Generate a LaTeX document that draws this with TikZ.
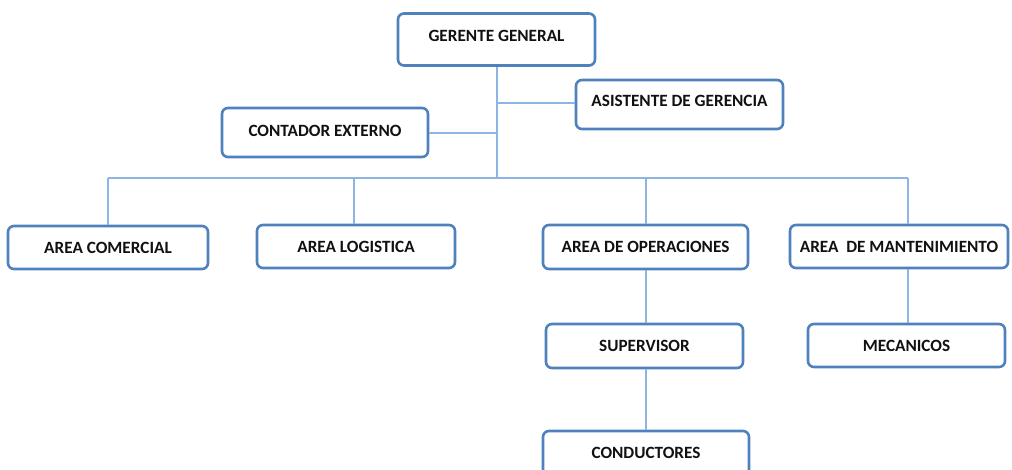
\documentclass[tikz,border=0pt]{standalone}
\usepackage{fontspec}
\setmainfont{Carlito}
\definecolor{boxblue}{HTML}{4F81BD}
\definecolor{linkblue}{HTML}{8EB4E3}
\definecolor{txt}{HTML}{111111}
\begin{document}
\begin{tikzpicture}[x=1pt,y=-1pt,
  orgbox/.style={draw=boxblue,line width=2.6pt,rounded corners=6pt,fill=white,
    inner sep=0pt,font=\fontsize{17.2}{19}\selectfont\bfseries,text=txt},
  link/.style={draw=linkblue,line width=1.4pt}]
\clip (0,0) rectangle (1012,470);
\fill[white] (0,0) rectangle (1012,470);
\coordinate (hub) at (497,178);
\coordinate (jA) at (497,103);
\coordinate (jC) at (497,133);
\coordinate (hL) at (108,178);
\coordinate (hR) at (908,178);
\coordinate (h2) at (354,178);
\coordinate (h3) at (646,178);
\node[orgbox,minimum width=197pt,minimum height=52pt,text depth=7pt] (gg) at (496.5,39.5) {GERENTE GENERAL};
\node[orgbox,minimum width=207pt,minimum height=49pt,text depth=7pt] (as) at (679.5,104.5) {ASISTENTE DE GERENCIA};
\node[orgbox,minimum width=206pt,minimum height=49pt,text depth=4pt] (ce) at (325,132.5) {CONTADOR EXTERNO};
\node[orgbox,minimum width=200pt,minimum height=43pt] (ac) at (108,247.5) {AREA COMERCIAL};
\node[orgbox,minimum width=198pt,minimum height=43pt] (al) at (356,246.5) {AREA LOGISTICA};
\node[orgbox,minimum width=205pt,minimum height=44pt] (ao) at (645.5,247) {AREA DE OPERACIONES};
\node[orgbox,minimum width=218pt,minimum height=43pt] (am) at (899,246.5) {AREA~~DE MANTENIMIENTO};
\node[orgbox,minimum width=197pt,minimum height=44pt] (su) at (644.5,346) {SUPERVISOR};
\node[orgbox,minimum width=197pt,minimum height=43pt] (me) at (906.5,345.5) {MECANICOS};
\node[orgbox,minimum width=206pt,minimum height=44pt] (co) at (646,453) {CONDUCTORES};
\draw[link] (gg.south -| hub) -- (hub);
\draw[link] (jA) -- (as.west |- jA);
\draw[link] (jC) -- (ce.east |- jC);
\draw[link] (hL) -- (hR);
\draw[link] (hL) -- (ac.north -| hL);
\draw[link] (h2) -- (al.north -| h2);
\draw[link] (h3) -- (ao.north -| h3);
\draw[link] (hR) -- (am.north -| hR);
\draw[link] (ao.south -| h3) -- (su.north -| h3);
\draw[link] (su.south -| h3) -- (co.north -| h3);
\draw[link] (am.south -| hR) -- (me.north -| hR);
\end{tikzpicture}
\end{document}
